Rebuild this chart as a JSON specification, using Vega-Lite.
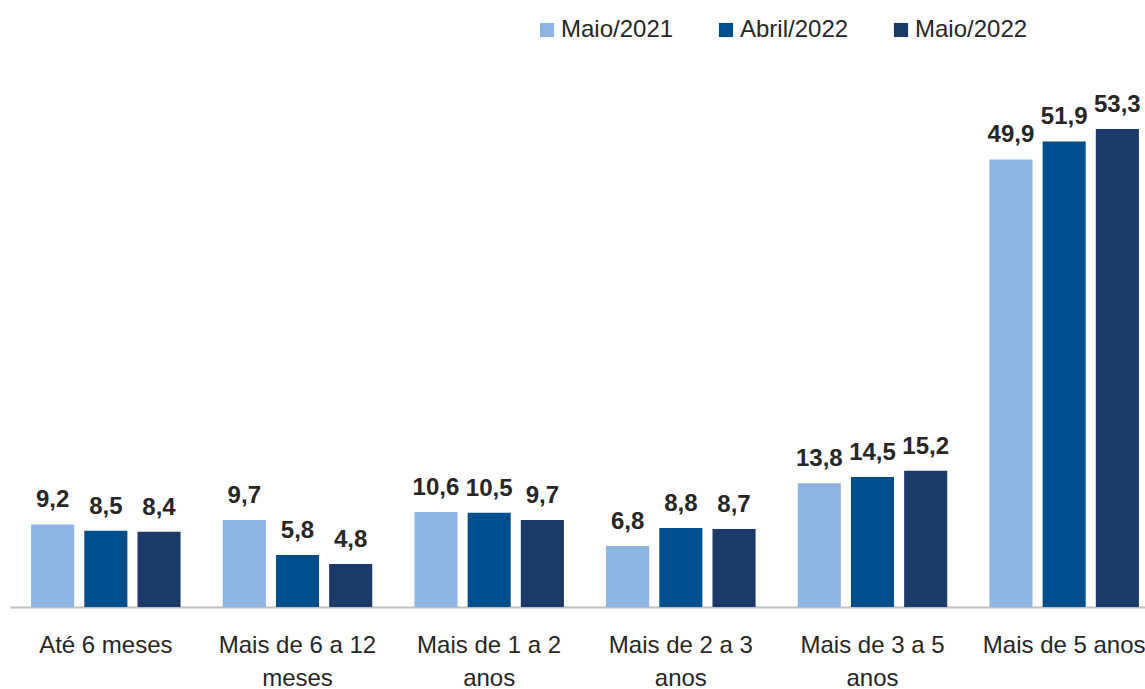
{
  "$schema": "https://vega.github.io/schema/vega-lite/v6.json",
  "autosize": "none",
  "padding": {"left": 10, "top": 67, "right": 0, "bottom": 82},
  "width": 1150,
  "height": 540,
  "background": "white",
  "config": {
    "view": {"stroke": null},
    "font": "Liberation Sans",
    "locale": {"number": {"decimal": ",", "thousands": ".", "grouping": [3], "currency": ["R$", ""]}}
  },
  "data": {
    "values": [
      {"faixa": "Até 6 meses", "periodo": "Maio/2021", "valor": 9.2},
      {"faixa": "Até 6 meses", "periodo": "Abril/2022", "valor": 8.5},
      {"faixa": "Até 6 meses", "periodo": "Maio/2022", "valor": 8.4},
      {"faixa": "Mais de 6 a 12 meses", "periodo": "Maio/2021", "valor": 9.7},
      {"faixa": "Mais de 6 a 12 meses", "periodo": "Abril/2022", "valor": 5.8},
      {"faixa": "Mais de 6 a 12 meses", "periodo": "Maio/2022", "valor": 4.8},
      {"faixa": "Mais de 1 a 2 anos", "periodo": "Maio/2021", "valor": 10.6},
      {"faixa": "Mais de 1 a 2 anos", "periodo": "Abril/2022", "valor": 10.5},
      {"faixa": "Mais de 1 a 2 anos", "periodo": "Maio/2022", "valor": 9.7},
      {"faixa": "Mais de 2 a 3 anos", "periodo": "Maio/2021", "valor": 6.8},
      {"faixa": "Mais de 2 a 3 anos", "periodo": "Abril/2022", "valor": 8.8},
      {"faixa": "Mais de 2 a 3 anos", "periodo": "Maio/2022", "valor": 8.7},
      {"faixa": "Mais de 3 a 5 anos", "periodo": "Maio/2021", "valor": 13.8},
      {"faixa": "Mais de 3 a 5 anos", "periodo": "Abril/2022", "valor": 14.5},
      {"faixa": "Mais de 3 a 5 anos", "periodo": "Maio/2022", "valor": 15.2},
      {"faixa": "Mais de 5 anos", "periodo": "Maio/2021", "valor": 49.9},
      {"faixa": "Mais de 5 anos", "periodo": "Abril/2022", "valor": 51.9},
      {"faixa": "Mais de 5 anos", "periodo": "Maio/2022", "valor": 53.3}
    ]
  },
  "encoding": {
    "x": {
      "field": "faixa",
      "type": "nominal",
      "sort": null,
      "scale": {"paddingInner": 0.22, "paddingOuter": 0.11},
      "axis": {
        "title": null,
        "labelAngle": 0,
        "labelFontSize": 24,
        "labelColor": "#262626",
        "labelPadding": 26,
        "labelLineHeight": 33,
        "labelBaseline": "top",
        "labelLimit": 0,
        "ticks": false,
        "domainColor": "#BFBFBF",
        "domainWidth": 2,
        "labelExpr": "length(datum.value) > 15 ? [substring(datum.value, 0, lastindexof(datum.value, ' ')), substring(datum.value, lastindexof(datum.value, ' ') + 1)] : datum.value"
      }
    },
    "xOffset": {
      "field": "periodo",
      "type": "nominal",
      "sort": ["Maio/2021", "Abril/2022", "Maio/2022"],
      "scale": {"paddingInner": 0.19}
    },
    "y": {
      "field": "valor",
      "type": "quantitative",
      "scale": {"domain": [0, 60.2]},
      "axis": null
    }
  },
  "layer": [
    {
      "mark": {"type": "bar"},
      "encoding": {
        "color": {
          "field": "periodo",
          "type": "nominal",
          "sort": ["Maio/2021", "Abril/2022", "Maio/2022"],
          "scale": {
            "domain": ["Maio/2021", "Abril/2022", "Maio/2022"],
            "range": ["#8EB4E3", "#004F8C", "#1B3A67"]
          },
          "legend": {
            "title": null,
            "orient": "none",
            "legendX": 525,
            "legendY": -49,
            "direction": "horizontal",
            "symbolType": "square",
            "symbolSize": 200,
            "symbolStrokeWidth": 0,
            "labelFontSize": 24,
            "labelColor": "#262626",
            "labelOffset": 2,
            "labelLimit": 0,
            "columnPadding": 40
          }
        }
      }
    },
    {
      "mark": {"type": "text", "baseline": "alphabetic", "dy": -17, "fontSize": 24, "fontWeight": "bold", "color": "#262626"},
      "encoding": {
        "text": {"field": "valor", "type": "quantitative", "format": ".1f"}
      }
    }
  ]
}
